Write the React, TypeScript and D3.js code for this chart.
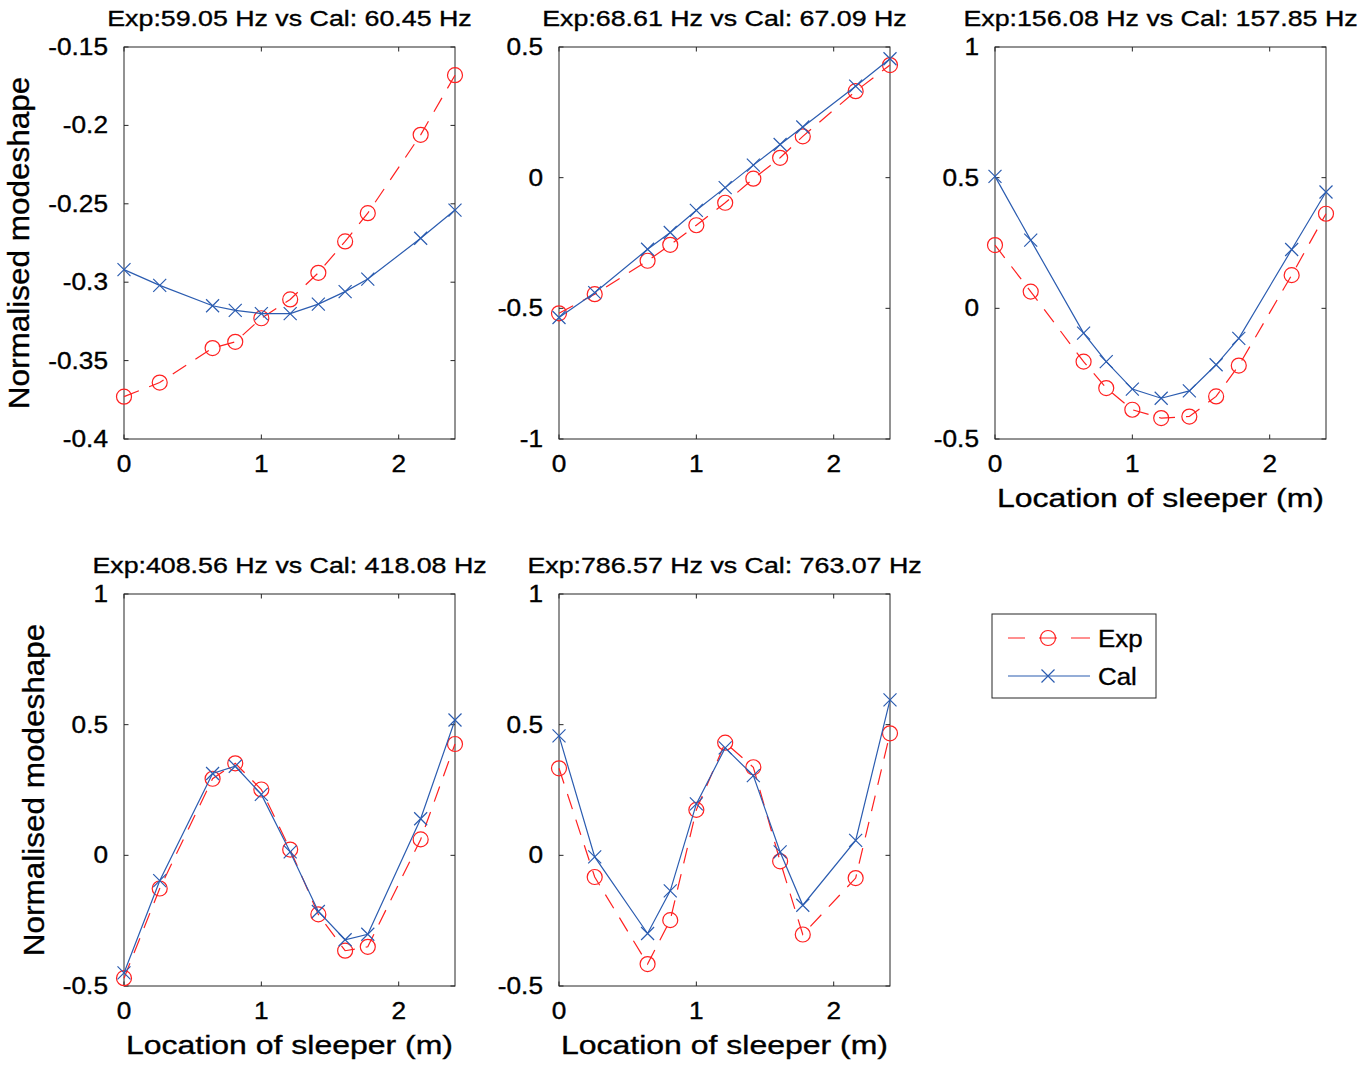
import * as React from 'react'
import * as d3 from 'd3'

// sleeper locations (m), shared by every panel
const sleeperX = [0, 0.26, 0.645, 0.81, 1.0, 1.21, 1.415, 1.61, 1.775, 2.16, 2.41]

const titles = [
  'Exp:59.05 Hz vs Cal: 60.45 Hz',
  'Exp:68.61 Hz vs Cal: 67.09 Hz',
  'Exp:156.08 Hz vs Cal: 157.85 Hz',
  'Exp:408.56 Hz vs Cal: 418.08 Hz',
  'Exp:786.57 Hz vs Cal: 763.07 Hz',
]

const exp1 = [-0.373, -0.364, -0.342, -0.338, -0.323, -0.311, -0.294, -0.274, -0.256, -0.206, -0.168]
const cal1 = [-0.292, -0.302, -0.315, -0.318, -0.320, -0.320, -0.314, -0.306, -0.298, -0.272, -0.254]

const exp2 = [-0.519, -0.446, -0.318, -0.257, -0.182, -0.096, -0.004, 0.076, 0.158, 0.331, 0.431]
const cal2 = [-0.535, -0.440, -0.274, -0.210, -0.125, -0.038, 0.048, 0.127, 0.194, 0.350, 0.455]

const exp3 = [0.242, 0.064, -0.204, -0.305, -0.388, -0.420, -0.414, -0.337, -0.219, 0.127, 0.362]
const cal3 = [0.505, 0.261, -0.095, -0.204, -0.309, -0.344, -0.316, -0.216, -0.115, 0.225, 0.445]

const exp4 = [-0.470, -0.127, 0.293, 0.352, 0.252, 0.022, -0.226, -0.365, -0.350, 0.061, 0.426]
const cal4 = [-0.450, -0.097, 0.313, 0.341, 0.233, 0.013, -0.215, -0.323, -0.302, 0.140, 0.518]

const exp5 = [0.333, -0.083, -0.416, -0.248, 0.174, 0.431, 0.337, -0.023, -0.303, -0.087, 0.467]
const cal5 = [0.457, -0.006, -0.299, -0.136, 0.197, 0.411, 0.305, 0.013, -0.191, 0.057, 0.595]

const xTicks = [0, 1, 2]
const yTicks1 = [-0.4, -0.35, -0.3, -0.25, -0.2, -0.15]
const yTicks2 = [-1, -0.5, 0, 0.5]
const yTicks345 = [-0.5, 0, 0.5, 1]

const xLabel = 'Location of sleeper (m)'
const yLabel = 'Normalised modeshape'
const legendLabels = ['Exp', 'Cal']

const RED = '#ff2020'
const BLUE = '#2b5cb0'
const AXIS = '#262626'
const FONT = '"Liberation Sans", Arial, Helvetica, sans-serif'

const PW = 331
const PH = 392

interface PanelSpec {
  left: number
  top: number
  title: string
  exp: number[]
  cal: number[]
  yTicks: number[]
  showXLabel: boolean
  yLabelX?: number
}

const panels: PanelSpec[] = [
  { left: 124, top: 47, title: titles[0], exp: exp1, cal: cal1, yTicks: yTicks1, showXLabel: false, yLabelX: 29 },
  { left: 559, top: 47, title: titles[1], exp: exp2, cal: cal2, yTicks: yTicks2, showXLabel: false },
  { left: 995, top: 47, title: titles[2], exp: exp3, cal: cal3, yTicks: yTicks345, showXLabel: true },
  { left: 124, top: 594, title: titles[3], exp: exp4, cal: cal4, yTicks: yTicks345, showXLabel: true, yLabelX: 44 },
  { left: 559, top: 594, title: titles[4], exp: exp5, cal: cal5, yTicks: yTicks345, showXLabel: true },
]

const fmt = (v: number) => String(+v.toFixed(2))

// text gets a hairline stroke so it sits as heavy as the reference's
const textStyle = { fontFamily: FONT, fill: '#000', stroke: '#000', strokeWidth: 0.35 }

function XMark({ x, y, s = 6.5 }: { x: number; y: number; s?: number }) {
  return (
    <path
      d={`M${x - s},${y - s}L${x + s},${y + s}M${x - s},${y + s}L${x + s},${y - s}`}
      stroke={BLUE}
      strokeWidth={1.2}
      fill="none"
    />
  )
}

function Panel({ p }: { p: PanelSpec }) {
  const x = d3.scaleLinear().domain([0, 2.41]).range([p.left, p.left + PW])
  const y = d3
    .scaleLinear()
    .domain([p.yTicks[0], p.yTicks[p.yTicks.length - 1]])
    .range([p.top + PH, p.top])
  const bottom = p.top + PH
  const right = p.left + PW
  const tl = 4.5

  const line = d3
    .line<number>()
    .x((_, i) => x(sleeperX[i]))
    .y(d => y(d))

  return (
    <g>
      <rect x={p.left} y={p.top} width={PW} height={PH} fill="none" stroke={AXIS} strokeWidth={1} />
      {xTicks.map(t => (
        <g key={'x' + t}>
          <line x1={x(t)} x2={x(t)} y1={bottom} y2={bottom - tl} stroke={AXIS} />
          <line x1={x(t)} x2={x(t)} y1={p.top} y2={p.top + tl} stroke={AXIS} />
          <text
            transform={`translate(${x(t)},${bottom + 33}) scale(1.14,1)`}
            textAnchor="middle"
            fontSize={23}
            style={textStyle}
          >
            {fmt(t)}
          </text>
        </g>
      ))}
      {p.yTicks.map(t => (
        <g key={'y' + t}>
          <line x1={p.left} x2={p.left + tl} y1={y(t)} y2={y(t)} stroke={AXIS} />
          <line x1={right} x2={right - tl} y1={y(t)} y2={y(t)} stroke={AXIS} />
          <text
            transform={`translate(${p.left - 16},${y(t) + 8}) scale(1.14,1)`}
            textAnchor="end"
            fontSize={23}
            style={textStyle}
          >
            {fmt(t)}
          </text>
        </g>
      ))}
      <text
        transform={`translate(${p.left + PW / 2},${p.top - 21}) scale(1.19,1)`}
        textAnchor="middle"
        fontSize={22.5}
        style={textStyle}
      >
        {p.title}
      </text>
      {p.showXLabel && (
        <text
          transform={`translate(${p.left + PW / 2},${bottom + 68}) scale(1.23,1)`}
          textAnchor="middle"
          fontSize={26}
          style={textStyle}
        >
          {xLabel}
        </text>
      )}
      {p.yLabelX !== undefined && (
        <text
          transform={`translate(${p.yLabelX},${p.top + PH / 2}) rotate(-90) scale(1.05,1)`}
          textAnchor="middle"
          fontSize={30}
          style={textStyle}
        >
          {yLabel}
        </text>
      )}

      {/* Exp: red dashed with circles */}
      <path d={line(p.exp) || ''} fill="none" stroke={RED} strokeWidth={1.2} strokeDasharray="16,11" />
      {p.exp.map((v, i) => (
        <circle key={'e' + i} cx={x(sleeperX[i])} cy={y(v)} r={7.5} fill="none" stroke={RED} strokeWidth={1.2} />
      ))}

      {/* Cal: blue solid with crosses */}
      <path d={line(p.cal) || ''} fill="none" stroke={BLUE} strokeWidth={1.2} />
      {p.cal.map((v, i) => (
        <XMark key={'c' + i} x={x(sleeperX[i])} y={y(v)} />
      ))}
    </g>
  )
}

function Legend() {
  const lx = 992
  const ly = 614
  const rowY = [ly + 24, ly + 62]
  return (
    <g>
      <rect x={lx} y={ly} width={164} height={84} fill="#fff" stroke={AXIS} strokeWidth={1} />
      <line
        x1={lx + 16}
        x2={lx + 98}
        y1={rowY[0]}
        y2={rowY[0]}
        stroke={RED}
        strokeWidth={1.2}
        strokeDasharray="17,14,18,14,19"
      />
      <circle cx={lx + 56} cy={rowY[0]} r={7.5} fill="none" stroke={RED} strokeWidth={1.2} />
      <line x1={lx + 16} x2={lx + 98} y1={rowY[1]} y2={rowY[1]} stroke={BLUE} strokeWidth={1.2} />
      <XMark x={lx + 56} y={rowY[1]} />
      {legendLabels.map((l, i) => (
        <text
          key={l}
          transform={`translate(${lx + 106},${rowY[i] + 9}) scale(1.08,1)`}
          fontSize={24}
          style={textStyle}
        >
          {l}
        </text>
      ))}
    </g>
  )
}

export default function App() {
  return (
    <svg
      width={1362}
      height={1066}
      style={{ position: 'absolute', left: 0, top: 0, background: '#fff' }}
    >
      {panels.map((p, i) => (
        <Panel key={i} p={p} />
      ))}
      <Legend />
    </svg>
  )
}
